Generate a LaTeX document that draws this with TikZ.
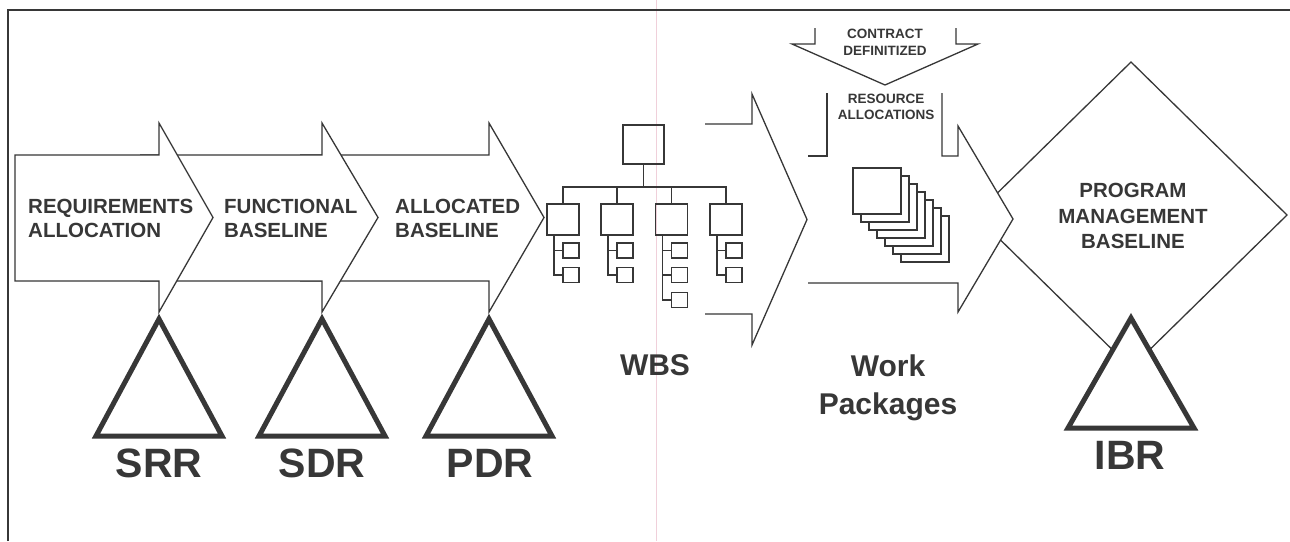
\documentclass[tikz,border=0pt]{standalone}
\usepackage{fontspec}
\setmainfont{Liberation Sans}
\definecolor{ink}{RGB}{55,55,55}
\definecolor{scanline}{RGB}{240,208,218}
\begin{document}
\begin{tikzpicture}[x=1pt,y=-1pt,
  frame/.style={draw=ink, line width=1.5pt},
  flow/.style={draw=ink, fill=white, line width=1.3pt, line join=miter},
  treeline/.style={draw=ink, line width=1.4pt},
  tbox/.style={draw=ink, line width=1.4pt, rectangle, inner sep=0pt, outer sep=0pt},
  wpbox/.style={draw=ink, fill=white, line width=1.3pt, rectangle, inner sep=0pt, outer sep=0pt,
    minimum width=48pt, minimum height=46pt},
  milestone/.style={draw=ink, fill=white, line width=5pt, line join=miter},
  caps/.style={text=ink, inner sep=0pt, font=\bfseries\fontsize{20.5}{24}\selectfont},
  smallcaps/.style={text=ink, inner sep=0pt, font=\bfseries\fontsize{13.5}{16}\selectfont},
  stage/.style={text=ink, inner sep=0pt, font=\bfseries\fontsize{30}{36}\selectfont},
  review/.style={text=ink, inner sep=0pt, font=\bfseries\fontsize{41}{48}\selectfont}]
\useasboundingbox (0,0) rectangle (1290,541);
\fill[white] (0,0) rectangle (1290,541);

% faint vertical crease of the sheet
\draw[scanline, line width=0.8pt] (656,0) -- (656,541);

% frame (top and left edges)
\draw[frame] (8,541) -- (8,10) -- (1290,10);

% chevron flow: drawn back to front
\filldraw[flow] (300,155) -- (489,155) -- (489,123) -- (544,217.5) -- (489,312) -- (489,281) -- (300,281);
\filldraw[flow] (140,155) -- (322,155) -- (322,123) -- (378,217.5) -- (322,312) -- (322,281) -- (140,281);
\filldraw[flow] (15,155) -- (159,155) -- (159,123) -- (213,217.5) -- (159,312) -- (159,281) -- (15,281) -- cycle;

\node[caps, anchor=base west] (req1) at (28,213) {REQUIREMENTS};
\node[caps, anchor=base west] (req2) at (28,237) {ALLOCATION};
\node[caps, anchor=base west] (fun1) at (224,213) {FUNCTIONAL};
\node[caps, anchor=base west] (fun2) at (224,237) {BASELINE};
\node[caps, anchor=base west] (all1) at (395,213) {ALLOCATED};
\node[caps, anchor=base west] (all2) at (395,237) {BASELINE};

% review milestones
\filldraw[milestone] (159,319) -- (222,436) -- (96,436) -- cycle;
\filldraw[milestone] (322,319) -- (385,436) -- (259,436) -- cycle;
\filldraw[milestone] (489,319) -- (552,436) -- (426,436) -- cycle;
\node[review, anchor=base] (srr) at (159,477) {SRR};
\node[review, anchor=base] (sdr) at (322,477) {SDR};
\node[review, anchor=base] (pdr) at (490,477) {PDR};

% work breakdown structure
\node[tbox, minimum width=41pt, minimum height=39pt] (wbs) at (643.5,144.5) {};
\coordinate (bus) at (643.5,187);
\foreach \n/\x in {w1/563, w2/617, w3/671.5, w4/726}{
  \node[tbox, minimum width=32pt, minimum height=31pt] (\n) at (\x,219.5) {};
  \node[tbox, minimum width=16pt, minimum height=15pt] (\n a) at (\x+8,250.5) {};
  \node[tbox, minimum width=16pt, minimum height=15pt] (\n b) at (\x+8,275) {};
}
\node[tbox, minimum width=16pt, minimum height=15pt] (w3c) at (679.5,300) {};
\draw[treeline] (wbs.south) -- (bus);
\draw[treeline] (w1.north) -- (w1.north |- bus) -- (w4.north |- bus) -- (w4.north);
\draw[treeline] (w2.north) -- (w2.north |- bus);
\draw[treeline] (w3.north) -- (w3.north |- bus);
\foreach \n in {w1,w2,w3,w4}{
  \draw[treeline] ([xshift=-9pt]\n.south) |- (\n a.west);
  \draw[treeline] ([xshift=-9pt]\n.south) |- (\n b.west);
}
\draw[treeline] ([xshift=-9pt]w3.south) |- (w3c.west);

% open arrow around the WBS
\draw[flow, fill=none] (705,124) -- (752,124) -- (752,94) -- (807,219.5) -- (752,345) -- (752,314) -- (705,314);
\node[stage, anchor=base] (wbslabel) at (655,375) {WBS};

% contract definitized (downward arrow)
\draw[flow, fill=none] (815,28) -- (815,44) -- (792,44) -- (885,85) -- (978,44) -- (956,44) -- (956,28);
\node[smallcaps, anchor=base] (con1) at (885,38) {CONTRACT};
\node[smallcaps, anchor=base] (con2) at (885,55) {DEFINITIZED};

% program management baseline
\filldraw[flow] (1131,62) -- (1287,215) -- (1131,368) -- (975,215) -- cycle;
\node[caps, anchor=base] (pmb1) at (1133,197) {PROGRAM};
\node[caps, anchor=base] (pmb2) at (1133,223) {MANAGEMENT};
\node[caps, anchor=base] (pmb3) at (1133,248) {BASELINE};

% work packages arrow with resource allocation inlet
\filldraw[flow] (942,93) -- (942,156) -- (958,156) -- (958,126) -- (1013,219) -- (958,312) -- (958,283) -- (808,283);
\draw[flow, fill=none] (827,93) -- (827,156) -- (808,156);
\node[smallcaps, anchor=base] (res1) at (886,103) {RESOURCE};
\node[smallcaps, anchor=base] (res2) at (886,119) {ALLOCATIONS};

% stacked work packages
\foreach \k in {6,5,...,0}{
  \node[wpbox] (wp\k) at (877+8*\k,191+8*\k) {};
}
\node[stage, anchor=base] (wp1label) at (888,376) {Work};
\node[stage, anchor=base] (wp2label) at (888,414) {Packages};

% integrated baseline review
\filldraw[milestone] (1131,318) -- (1194,428) -- (1068,428) -- cycle;
\node[review, anchor=base] (ibr) at (1130,469) {IBR};
\end{tikzpicture}
\end{document}
